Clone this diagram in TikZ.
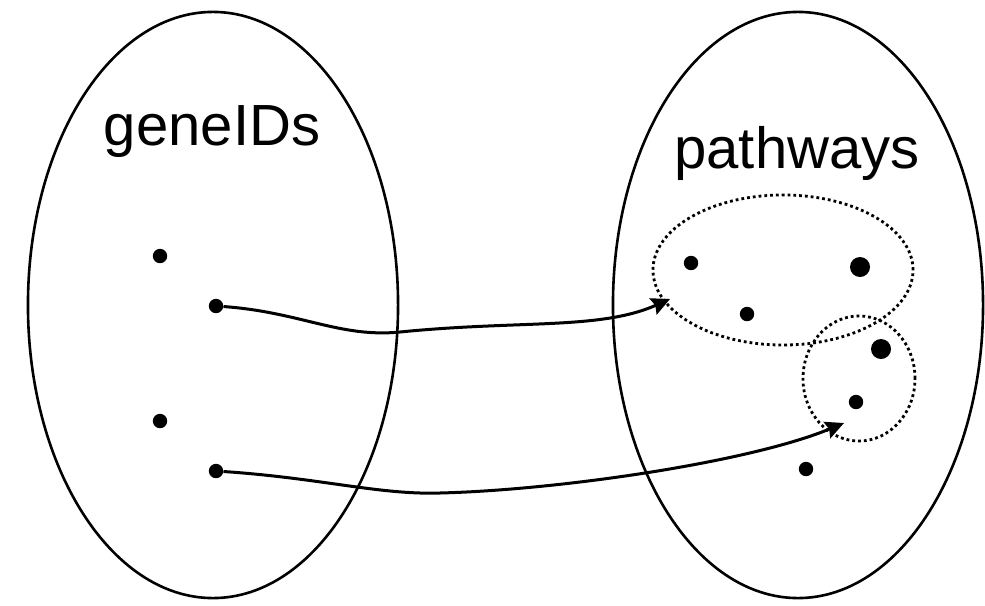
\documentclass[tikz,border=0pt]{standalone}
\usepackage{fontspec}
\setmainfont{Liberation Sans}
\usetikzlibrary{arrows.meta,shapes.geometric}
\newcommand{\setfont}{\fontsize{41.3pt}{49pt}\selectfont}
\tikzset{
	dot/.style={circle, fill=black, inner sep=0pt, minimum size=0.36cm},
	bigdot/.style={dot, minimum size=0.5cm},
	setbox/.style={ellipse, draw, line width=0.65mm, inner sep=0pt, minimum width=9.25cm, minimum height=14.65cm},
	groupbox/.style={ellipse, draw, line width=0.7mm, dash pattern=on 0.7mm off 0.75mm, inner sep=0pt},
	link/.style={line width=0.75mm, -{Stealth[length=4.6mm, width=4.4mm, inset=0.6mm]}}
}

\begin{document}
\begin{tikzpicture}[x=0.025cm, y=-0.025cm]
		%%%%% START %%%%%
		\useasboundingbox (0, 0) rectangle (985, 605);
		
		% the two sets
		\node[setbox] (genes) at (213, 305) {};
		\node[setbox] (paths) at (798, 305) {};
		\node[anchor=base] (genelbl) at (212, 145) {\setfont geneIDs};
		\node[anchor=base] (pathlbl) at (797, 168) {\setfont pathways};
		
		% groups of pathways
		\node[groupbox, minimum width=6.5cm, minimum height=3.75cm] (grpA) at (783, 270) {};
		\node[groupbox, minimum width=2.8cm, minimum height=3.125cm] (grpB) at (859, 378.5) {};
		
		% gene ids
		\node[dot] (g1) at (160, 256) {};
		\node[dot] (g2) at (216, 306) {};
		\node[dot] (g3) at (160, 421) {};
		\node[dot] (g4) at (216, 471) {};
		
		% pathway items
		\node[dot] (p1) at (691, 263) {};
		\node[bigdot] (p2) at (860, 267) {};
		\node[dot] (p3) at (747, 314) {};
		\node[bigdot] (p4) at (881, 349) {};
		\node[dot] (p5) at (856, 402) {};
		\node[dot] (p6) at (806, 469) {};
		
		\coordinate (tipA) at (670, 299);
		\coordinate (tipB) at (844, 423);
		
		\draw[link] (g2) .. controls (300, 312) and (340, 338) .. (400, 332) .. controls (520, 320) and (600, 330) .. (tipA);
		\draw[link] (g4) .. controls (320, 478) and (380, 495) .. (440, 493) .. controls (560, 490) and (750, 462) .. (tipB);
		
		%%%%% END %%%%%
\end{tikzpicture}
\end{document}
